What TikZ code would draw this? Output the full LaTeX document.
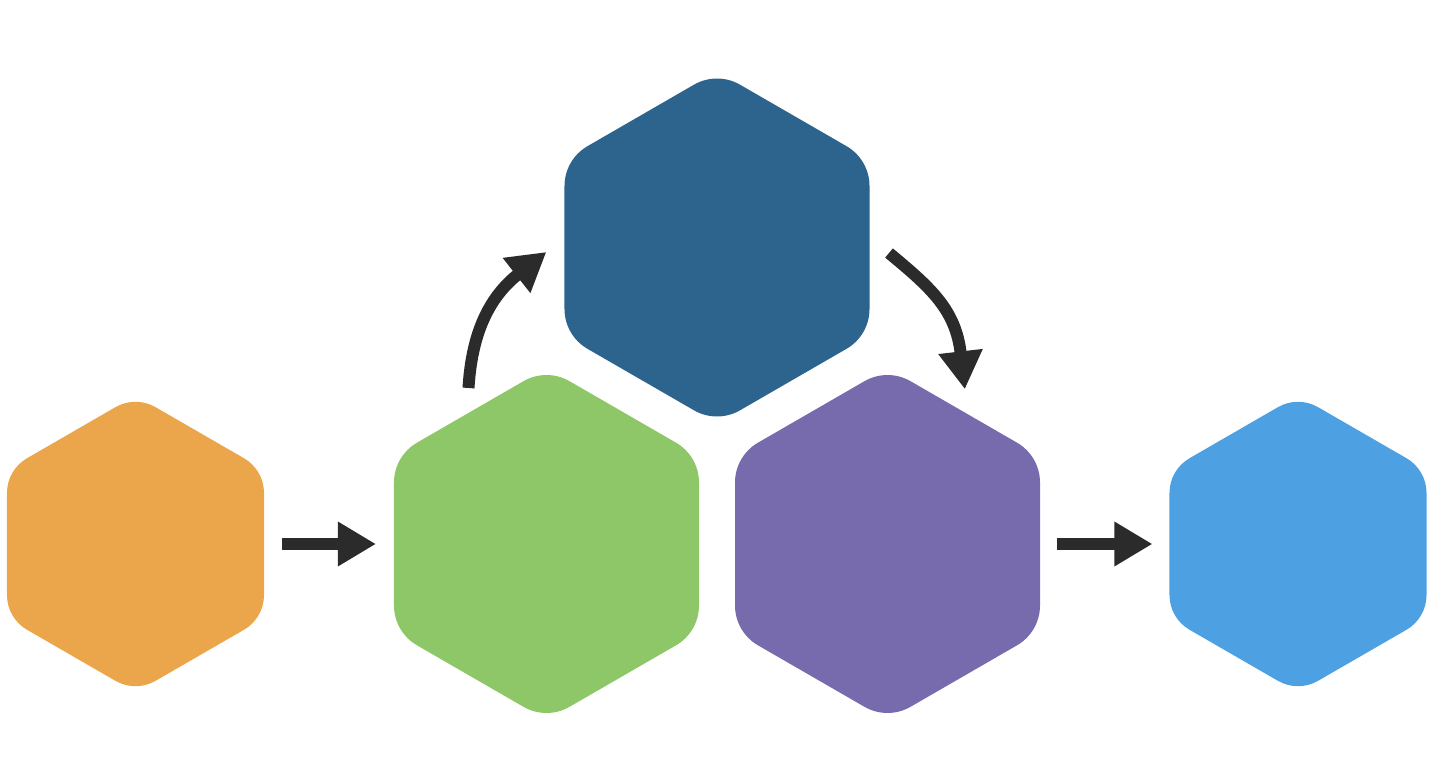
\documentclass[tikz,border=0pt]{standalone}
\usetikzlibrary{shapes.geometric,arrows.meta}
\definecolor{cOrange}{RGB}{235,165,74}
\definecolor{cGreen}{RGB}{141,199,103}
\definecolor{cPurple}{RGB}{119,107,174}
\definecolor{cDark}{RGB}{45,100,141}
\definecolor{cLight}{RGB}{77,160,226}
\definecolor{cArrow}{RGB}{43,43,43}
\tikzset{
  hexa/.style={regular polygon, regular polygon sides=6, shape border rotate=30,
    inner sep=0pt, outer sep=0pt, draw=none},
  smallhex/.style={hexa, minimum size=296.8pt},
  bighex/.style={hexa, minimum size=352.2pt},
  conn/.style={draw=cArrow, line width=12pt,
    -{Triangle[length=38pt,width=42pt]}},
  curvedconn/.style={conn, shorten >=-38pt}
}
% #1 node name, #2 circumradius, #3 corner radius, #4 colour
\newcommand\myhexfill[4]{%
  \pgfmathsetmacro\myhexrp{#2-1.1547*#3}%
  \fill[#4] (#1.center) ++(90:\myhexrp) ++(60:#3)
    arc[start angle=60,end angle=120,radius=#3] -- ++(210:\myhexrp)
    arc[start angle=120,end angle=180,radius=#3] -- ++(270:\myhexrp)
    arc[start angle=180,end angle=240,radius=#3] -- ++(330:\myhexrp)
    arc[start angle=240,end angle=300,radius=#3] -- ++(30:\myhexrp)
    arc[start angle=300,end angle=360,radius=#3] -- ++(90:\myhexrp)
    arc[start angle=0,end angle=60,radius=#3] -- cycle;%
}
\begin{document}
\begin{tikzpicture}[x=1pt,y=-1pt]
\useasboundingbox (0,0) rectangle (1435,767);
\node[smallhex] (orange) at (135.5,544) {};
\node[bighex] (green) at (546.5,544) {};
\node[bighex] (dark) at (717,247.5) {};
\node[bighex] (purple) at (887.5,544) {};
\node[smallhex] (light) at (1298,544) {};
\myhexfill{orange}{148.4}{40}{cOrange}
\myhexfill{green}{176.1}{46}{cGreen}
\myhexfill{dark}{176.1}{46}{cDark}
\myhexfill{purple}{176.1}{46}{cPurple}
\myhexfill{light}{148.4}{40}{cLight}
\draw[conn, shorten <=18pt, shorten >=18pt] (orange) -- (green);
\draw[conn, shorten <=17pt, shorten >=17pt] (purple) -- (light);
\coordinate (s1) at (468.5,388);
\coordinate (e1) at (516.5,275.5);
\coordinate (s2) at (889,253);
\coordinate (e2) at (960.5,351.5);
\draw[curvedconn] (s1) .. controls (471.1,345) and (482.7,302.1) .. (e1);
\draw[curvedconn] (s2) .. controls (931.4,288.2) and (955.7,309.8) .. (e2);
\end{tikzpicture}
\end{document}
